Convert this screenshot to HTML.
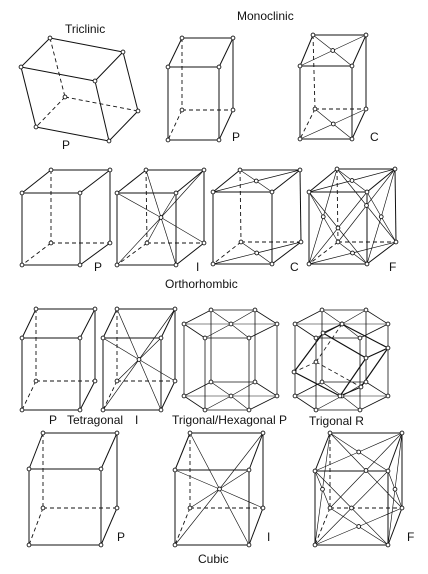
<!DOCTYPE html>
<html><head><meta charset="utf-8"><style>
html,body{margin:0;padding:0;background:#fff;}
svg{display:block;}
text{font-family:"Liberation Sans",sans-serif;font-size:12px;fill:#111;}
</style></head><body>
<svg id="s" width="428" height="574" viewBox="0 0 428 574">
<g id="lines"></g>
<g id="dots"></g>
<text x="65" y="33">Triclinic</text>
<text x="237" y="20">Monoclinic</text>
<text x="62" y="149">P</text>
<text x="232" y="141">P</text>
<text x="370" y="141">C</text>
<text x="94" y="271">P</text>
<text x="196" y="271">I</text>
<text x="290" y="271">C</text>
<text x="389" y="271">F</text>
<text x="165" y="288">Orthorhombic</text>
<text x="49" y="424">P</text>
<text x="67" y="424">Tetragonal</text>
<text x="135" y="424">I</text>
<text x="172" y="424">Trigonal/Hexagonal P</text>
<text x="309" y="425">Trigonal R</text>
<text x="117" y="541">P</text>
<text x="267" y="541">I</text>
<text x="198" y="563">Cubic</text>
<text x="407" y="541">F</text>
</svg>
<script>
// cells: [type, btL, btR, ftL, ftR, bbL, bbR, fbL, fbR]
const cells = [
 ['P',[50,38],[123,52],[21,67],[95,81],[65,97],[138,111],[36,127],[109,141]],
 ['P',[182,38],[233,38],[168,67],[219,67],[182,110],[233,110],[168,140],[219,140]],
 ['C',[313,35],[366,35],[300,66],[352,66],[315,109],[366,109],[300,139],[352,139]],
 ['P',[51,170],[110,170],[22,193],[80,193],[51,243],[110,243],[22,265],[80,265]],
 ['I',[146,170],[204,170],[117,193],[176,193],[147,243],[204,243],[117,265],[176,265]],
 ['C',[240,170],[300,170],[213,192],[272,192],[241,242],[301,242],[213,264],[272,264]],
 ['F',[337,169],[395,169],[309,192],[367,192],[338,242],[396,242],[309,264],[367,264]],
 ['P',[36,309],[95,309],[22,338],[80,338],[36,381],[95,381],[22,410],[80,410]],
 ['I',[117,309],[175,309],[103,338],[161,338],[117,381],[175,381],[103,410],[161,410]],
 ['P',[43,433],[117,433],[29,469],[101,469],[43,508],[117,508],[29,545],[101,545]],
 ['I',[190,433],[263,433],[175,470],[249,470],[190,508],[263,508],[175,545],[249,545]],
 ['F',[330,433],[402,433],[315,471],[388,471],[330,508],[402,508],[315,545],[388,545]]
];
const hexCenters = [[231,324,396],[342,324,396]];
const hexDx = [-47,-20,24,46,18,-26];
const hexDy = [0,-14,-14,0,14,14];
const rhombo = [[342,324],[323,333],[388,348],[294,372],[366,358],[361,387],[340,396],[316,362]];
const rhEdges = [[0,1],[0,2],[1,3],[1,4],[2,4],[2,5],[3,6],[4,6],[5,6]];
const rhHidden = [[7,3],[7,5],[7,0]];

const NS='http://www.w3.org/2000/svg';
const L=document.getElementById('lines'), D=document.getElementById('dots');
function line(a,b,dash,w){
 const e=document.createElementNS(NS,'line');
 e.setAttribute('x1',a[0]);e.setAttribute('y1',a[1]);e.setAttribute('x2',b[0]);e.setAttribute('y2',b[1]);
 e.setAttribute('stroke','#111');e.setAttribute('stroke-width',w||1.0);
 if(dash)e.setAttribute('stroke-dasharray','4,3');
 
 
 L.appendChild(e);
}
function dot(p){
 const c=document.createElementNS(NS,'circle');
 c.setAttribute('cx',p[0]);c.setAttribute('cy',p[1]);c.setAttribute('r',1.9);
 c.setAttribute('fill','#fff');c.setAttribute('stroke','#111');c.setAttribute('stroke-width',0.9);
 
 
 D.appendChild(c);
}
const mid=(...p)=>[p.reduce((s,q)=>s+q[0],0)/p.length,p.reduce((s,q)=>s+q[1],0)/p.length];
function faceC(a,b,c,d,dash){const m=mid(a,b,c,d);[a,b,c,d].forEach(p=>line(p,m,dash,0.65));dot(m);}
cells.forEach(c=>{
 const [t,btL,btR,ftL,ftR,bbL,bbR,fbL,fbR]=c;
 [[ftL,ftR],[ftR,fbR],[fbR,fbL],[fbL,ftL],[btL,btR],[btL,ftL],[btR,ftR],[btR,bbR],[bbR,fbR]].forEach(e=>line(e[0],e[1]));
 [[btL,bbL],[bbL,bbR],[bbL,fbL]].forEach(e=>line(e[0],e[1],true,0.9));
 if(t==='I'){const m=mid(btL,fbR);[btL,btR,ftL,ftR,bbL,bbR,fbL,fbR].forEach(p=>line(p,m,false,0.65));dot(m);}
 if(t==='C'){faceC(btL,btR,ftR,ftL);faceC(bbL,bbR,fbR,fbL);}
 if(t==='F'){faceC(btL,btR,ftR,ftL);faceC(bbL,bbR,fbR,fbL);faceC(ftL,ftR,fbR,fbL);faceC(btL,btR,bbR,bbL);faceC(btL,ftL,fbL,bbL);faceC(btR,ftR,fbR,bbR);}
 [btL,btR,ftL,ftR,bbL,bbR,fbL,fbR].forEach(dot);
});
hexCenters.forEach(h=>{
 const [cx,ty,by]=h;
 const top=hexDx.map((dx,i)=>[cx+dx,ty+hexDy[i]]), bot=hexDx.map((dx,i)=>[cx+dx,by+hexDy[i]]);
 const ct=[cx,ty], cb=[cx,by];
 for(let i=0;i<6;i++){line(top[i],top[(i+1)%6],false,0.8);line(bot[i],bot[(i+1)%6],false,0.8);line(top[i],ct,false,0.6);line(bot[i],cb,false,0.6);line(top[i],bot[i],false,0.8);}
 top.concat(bot,[ct,cb]).forEach(dot);
});
rhEdges.forEach(e=>line(rhombo[e[0]],rhombo[e[1]],false,1.2));
rhHidden.forEach(e=>line(rhombo[e[0]],rhombo[e[1]],true,0.8));
rhombo.forEach(dot);
</script>
</body></html>
